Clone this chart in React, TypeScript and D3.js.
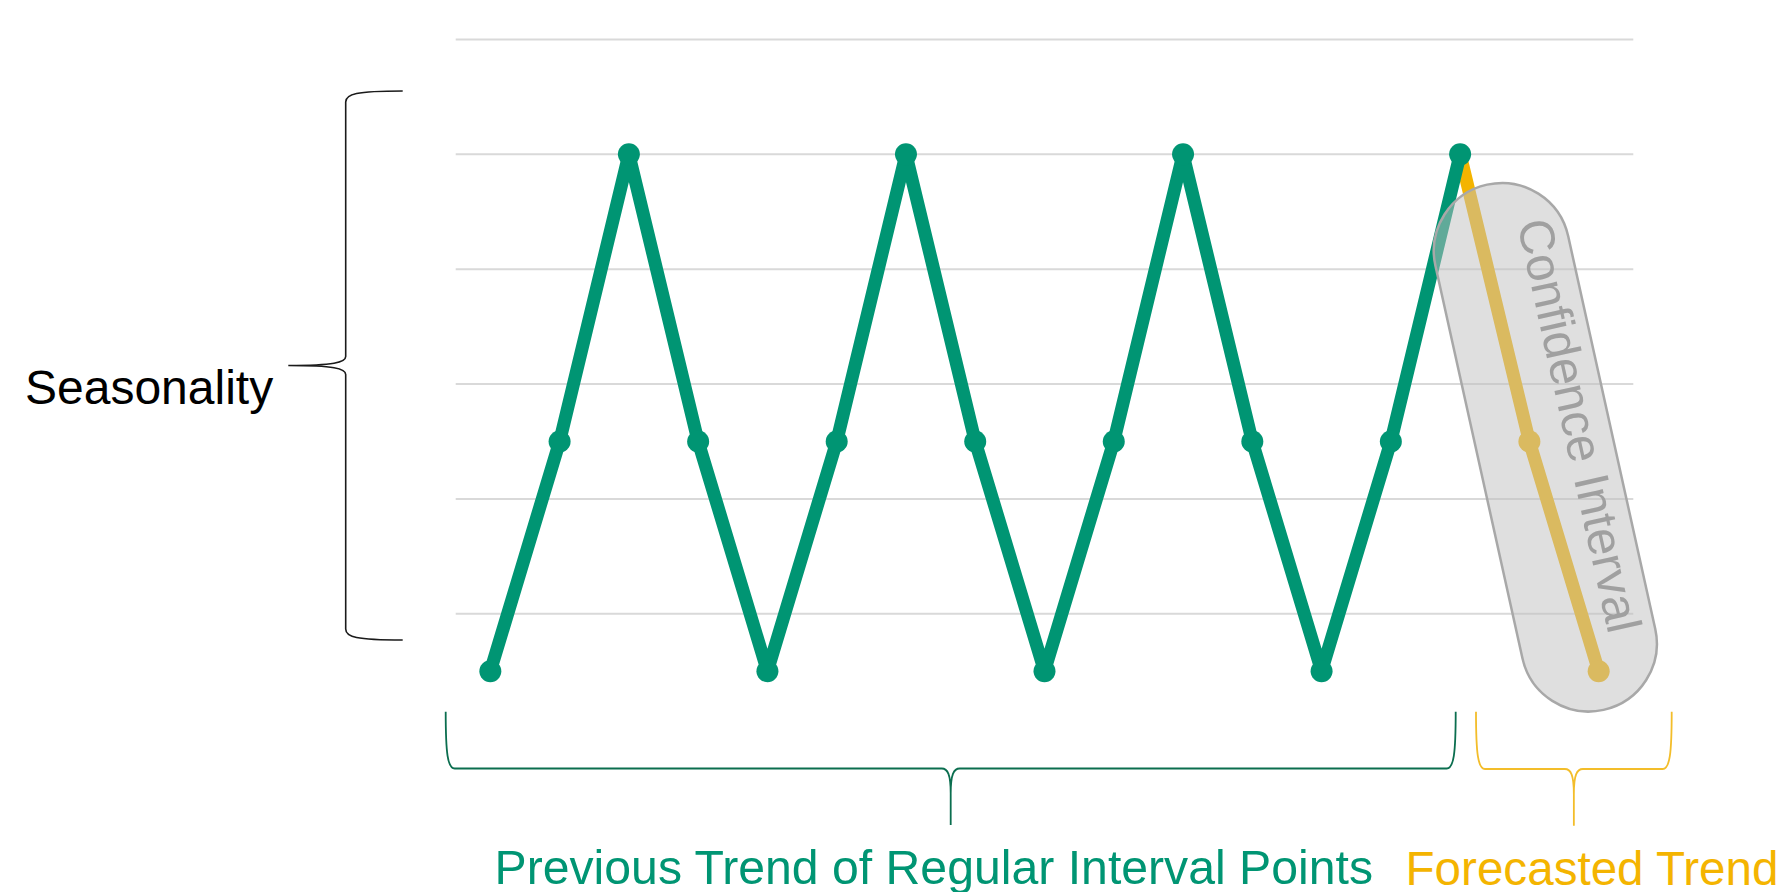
import React, { useEffect } from "react";
import * as d3 from "d3";

// ---- data ----
const actualValues = [0.5, 2.5, 5, 2.5, 0.5, 2.5, 5, 2.5, 0.5, 2.5, 5, 2.5, 0.5, 2.5, 5];
const forecastStartIndex = 14;
const forecastValues = [5, 2.5, 0.5];
const gridTicks = [1, 2, 3, 4, 5, 6];
const xDomain = [-0.5, 16.5];
const yDomain = [1, 6];
const confidenceCenter = { index: 15.23, value: 2.45 };

const seasonalityLabel = "Seasonality";
const previousLabel = "Previous Trend of Regular Interval Points";
const forecastLabel = "Forecasted Trend";
const confidenceLabel = "Confidence Interval";

// ---- styles ----
const GREEN = "#009573";
const GREEN_DARK = "#0b6e4f";
const YELLOW = "#f4b400";
const YELLOW_BRACE = "#f3bd2a";
const FONT = "'Liberation Sans', Arial, sans-serif";

const W = 1782;
const H = 892;

function hBrace(x1: number, x2: number, yTop: number, yMid: number, yTip: number) {
  const xm = (x1 + x2) / 2;
  return [
    `M${x1},${yTop}`,
    `C${x1},${yMid - 15} ${x1 + 2},${yMid} ${x1 + 9},${yMid}`,
    `L${xm - 9},${yMid}`,
    `C${xm - 3},${yMid} ${xm},${yMid + 6} ${xm},${yMid + 25}`,
    `L${xm},${yTip}`,
    `M${xm},${yMid + 25}`,
    `C${xm},${yMid + 6} ${xm + 3},${yMid} ${xm + 9},${yMid}`,
    `L${x2 - 9},${yMid}`,
    `C${x2 - 2},${yMid} ${x2},${yMid - 15} ${x2},${yTop}`,
  ].join(" ");
}

function vBrace(xEnd: number, xLine: number, xTip: number, y1: number, y2: number) {
  const ym = (y1 + y2) / 2;
  return [
    `M${xEnd},${y1}`,
    `C${xLine + 10},${y1} ${xLine},${y1 + 3} ${xLine},${y1 + 11}`,
    `L${xLine},${ym - 9}`,
    `C${xLine},${ym - 3} ${xLine - 12},${ym} ${xTip},${ym}`,
    `C${xLine - 12},${ym} ${xLine},${ym + 3} ${xLine},${ym + 9}`,
    `L${xLine},${y2 - 11}`,
    `C${xLine},${y2 - 3} ${xLine + 10},${y2} ${xEnd},${y2}`,
  ].join(" ");
}

export default function App() {
  useEffect(() => {
    document.body.style.margin = "0";
    document.body.style.overflow = "hidden";
  }, []);

  const x = d3.scaleLinear().domain(xDomain).range([455.7, 1633.3]);
  const y = d3.scaleLinear().domain(yDomain).range([613.8, 39.5]);

  const actualPts = actualValues.map((v, i) => ({ i, v }));
  const forecastPts = forecastValues.map((v, k) => ({ i: forecastStartIndex + k, v }));

  const line = d3
    .line<{ i: number; v: number }>()
    .x((d) => x(d.i))
    .y((d) => y(d.v));

  const cx = x(confidenceCenter.index);
  const cy = y(confidenceCenter.value);
  const pillW = 136;
  const pillL = 538;

  return (
    <svg
      width={W}
      height={H}
      style={{ position: "absolute", left: 0, top: 0, background: "#fff" }}
      xmlns="http://www.w3.org/2000/svg"
    >
      <rect x={0} y={0} width={W} height={H} fill="#ffffff" />
      {/* gridlines */}
      <g>
        {gridTicks.map((t) => (
          <line
            key={t}
            x1={x(xDomain[0])}
            x2={x(xDomain[1])}
            y1={y(t)}
            y2={y(t)}
            stroke="#d9d9d9"
            strokeWidth={2}
          />
        ))}
      </g>

      {/* forecast series */}
      <path
        d={line(forecastPts) || ""}
        fill="none"
        stroke={YELLOW}
        strokeWidth={13}
        strokeLinejoin="round"
      />
      {forecastPts.slice(1).map((d) => (
        <circle key={d.i} cx={x(d.i)} cy={y(d.v)} r={11} fill={YELLOW} />
      ))}

      {/* actual series */}
      <path
        d={line(actualPts) || ""}
        fill="none"
        stroke={GREEN}
        strokeWidth={13}
        strokeLinejoin="round"
      />
      {actualPts.map((d) => (
        <circle key={d.i} cx={x(d.i)} cy={y(d.v)} r={11} fill={GREEN} />
      ))}

      {/* confidence interval pill */}
      <g transform={`translate(${cx},${cy}) rotate(-12.5)`}>
        <rect
          x={-pillW / 2}
          y={-pillL / 2}
          width={pillW}
          height={pillL}
          rx={pillW / 2}
          ry={pillW / 2}
          fill="#bfbfbf"
          fillOpacity={0.5}
          stroke="#a8a8a8"
          strokeWidth={2.5}
        />
        <text
          transform={`translate(21,-14) rotate(90)`}
          textAnchor="middle"
          fontFamily={FONT}
          fontSize={49}
          fill="#a0a0a0"
        >
          {confidenceLabel}
        </text>
      </g>

      {/* seasonality brace */}
      <path d={vBrace(402.7, 345.7, 288.3, 91, 640)} fill="none" stroke="#1a1a1a" strokeWidth={1.6} />
      <text x={25} y={404} fontFamily={FONT} fontSize={48} fill="#000">
        {seasonalityLabel}
      </text>

      {/* bottom braces */}
      <path d={hBrace(445.7, 1455.7, 711.7, 768.5, 825)} fill="none" stroke={GREEN_DARK} strokeWidth={1.8} />
      <path d={hBrace(1476, 1671.7, 711.7, 769, 825.7)} fill="none" stroke={YELLOW_BRACE} strokeWidth={1.8} />

      <text x={494.5} y={884} fontFamily={FONT} fontSize={48.2} fill={GREEN}>
        {previousLabel}
      </text>
      <text x={1405.5} y={884.5} fontFamily={FONT} fontSize={47.6} fill={YELLOW}>
        {forecastLabel}
      </text>
    </svg>
  );
}
